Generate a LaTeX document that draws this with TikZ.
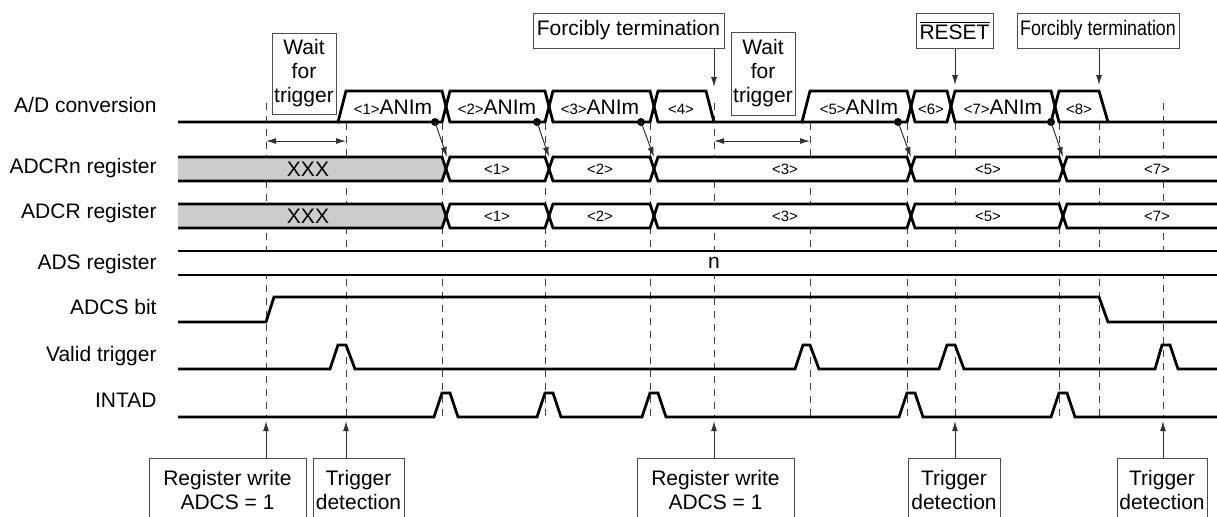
\documentclass[tikz,border=0pt]{standalone}
\usepackage{graphicx}
\usepackage{fontspec}
\setmainfont{Liberation Sans}
\usetikzlibrary{arrows.meta}

\tikzset{
  sigline/.style={line width=1.4pt, line join=miter},
  guide/.style={black!75, line width=0.5pt, dash pattern=on 3.5pt off 3pt},
  callout/.style={draw=black!70, line width=0.5pt, inner sep=0pt, align=center},
  ptr/.style={black!80, line width=0.5pt, -{Latex[length=5pt,width=3pt]}},
  span/.style={black!80, line width=0.5pt, {Latex[length=5pt,width=3pt]}-{Latex[length=5pt,width=3pt]}},
  rowlbl/.style={anchor=base east, inner sep=0pt},
  val/.style={anchor=base, inner sep=0pt},
}
\newcommand{\smtxt}[1]{{\fontsize{7.5}{9}\selectfont #1}}

\begin{document}
\begin{tikzpicture}[x=0.5pt,y=-0.5pt,font=\fontsize{10.5}{12}\selectfont]
\useasboundingbox (0,0) rectangle (1217,516);
\clip (0,0) rectangle (1217,516);

% row names
\node[rowlbl] (adlbl) at (157,112.5) {A/D conversion};
\node[rowlbl] (crnlbl) at (157,173.5) {ADCRn register};
\node[rowlbl] (crlbl) at (157,218.5) {ADCR register};
\node[rowlbl] (adslbl) at (157,269.5) {ADS register};
\node[rowlbl] (adcslbl) at (157,314) {ADCS bit};
\node[rowlbl] (vtlbl) at (157,361.5) {Valid trigger};
\node[rowlbl] (intlbl) at (157,407.5) {INTAD};

% timing guides
\foreach \gx in {266,714,1163} \draw[guide] (\gx,103) -- (\gx,417);
\foreach \gx in {346,442,545,650,810,907,955,1059,1099} \draw[guide] (\gx,123) -- (\gx,417);

% A/D conversion
\draw[sigline] (178,122) -- (338,122) -- (346,91) -- (442,91) -- (450,122) -- (545,122) -- (553,91) -- (650,91) -- (658,122) -- (714,122)
  -- (802,122) -- (810,91) -- (907,91) -- (915,122) -- (947,122) -- (955,91) -- (1051,91) -- (1059,122) -- (1108,122) -- (1217,122);
\draw[sigline] (338,122) -- (442,122) -- (450,91) -- (545,91) -- (553,122) -- (650,122) -- (658,91) -- (706,91) -- (714,122);
\draw[sigline] (802,122) -- (907,122) -- (915,91) -- (947,91) -- (955,122) -- (1051,122) -- (1059,91) -- (1099,91) -- (1108,122);
\node[val] (cv1) at (393,114) {\smtxt{<1>}ANIm};
\node[val] (cv2) at (497,114) {\smtxt{<2>}ANIm};
\node[val] (cv3) at (600,114) {\smtxt{<3>}ANIm};
\node[val] (cv4) at (681,114) {\smtxt{<4>}};
\node[val] (cv5) at (859,114) {\smtxt{<5>}ANIm};
\node[val] (cv6) at (931,114) {\smtxt{<6>}};
\node[val] (cv7) at (1003,114) {\smtxt{<7>}ANIm};
\node[val] (cv8) at (1079,114) {\smtxt{<8>}};

% ADCRn / ADCR buses
\foreach \bt/\bm/\bb in {157/169/181,204/216/228} {
  \fill[white] (178,\bt) rectangle (1217,\bb);
  \fill[gray!40] (178,\bt) -- (442,\bt) -- (446,\bm) -- (442,\bb) -- (178,\bb) -- cycle;
  \draw[sigline] (178,\bt) -- (442,\bt) -- (450,\bb) -- (545,\bb) -- (553,\bt) -- (650,\bt) -- (658,\bb) -- (907,\bb) -- (915,\bt) -- (1059,\bt) -- (1067,\bb) -- (1217,\bb);
  \draw[sigline] (178,\bb) -- (442,\bb) -- (450,\bt) -- (545,\bt) -- (553,\bb) -- (650,\bb) -- (658,\bt) -- (907,\bt) -- (915,\bb) -- (1059,\bb) -- (1067,\bt) -- (1217,\bt);
}
\node[val] (rnx) at (308,176.5) {XXX};
\node[val] (rn1) at (497,174) {\smtxt{<1>}};
\node[val] (rn2) at (600,174) {\smtxt{<2>}};
\node[val] (rn3) at (785,174) {\smtxt{<3>}};
\node[val] (rn5) at (988,174) {\smtxt{<5>}};
\node[val] (rn7) at (1157,174) {\smtxt{<7>}};
\node[val] (rx) at (308,223.5) {XXX};
\node[val] (r1) at (497,221) {\smtxt{<1>}};
\node[val] (r2) at (600,221) {\smtxt{<2>}};
\node[val] (r3) at (785,221) {\smtxt{<3>}};
\node[val] (r5) at (988,221) {\smtxt{<5>}};
\node[val] (r7) at (1157,221) {\smtxt{<7>}};

% ADS register
\fill[white] (178,251) rectangle (1217,275);
\draw[sigline] (178,251) -- (1217,251);
\draw[sigline] (178,275) -- (1217,275);
\node[val] (adsn) at (714,268.5) {n};

% ADCS bit, valid trigger, INTAD
\draw[sigline] (178,322) -- (266,322) -- (274,297) -- (1099,297) -- (1108,322) -- (1217,322);
\draw[sigline] (178,369) -- (330,369) -- (338,345) -- (346,345) -- (355,369) -- (795,369) -- (803,345) -- (810,345) -- (819,369)
  -- (939,369) -- (947,345) -- (955,345) -- (964,369) -- (1155,369) -- (1162,345) -- (1170,345) -- (1178,369) -- (1217,369);
\draw[sigline] (178,417) -- (434,417) -- (442,393) -- (450,393) -- (458,417) -- (537,417) -- (545,393) -- (553,393) -- (561,417)
  -- (642,417) -- (650,393) -- (658,393) -- (666,417) -- (899,417) -- (907,393) -- (915,393) -- (923,417)
  -- (1051,417) -- (1059,393) -- (1067,393) -- (1075,417) -- (1217,417);

% end of conversion -> register
\coordinate (e1) at (435,122); \coordinate (u1) at (447,157);
\coordinate (e2) at (537,122); \coordinate (u2) at (549,157);
\coordinate (e3) at (641,122); \coordinate (u3) at (654,157);
\coordinate (e4) at (898,122); \coordinate (u4) at (911,157);
\coordinate (e5) at (1051,122); \coordinate (u5) at (1063,157);
\foreach \i in {1,...,5} {
  \fill (e\i) circle (2pt);
  \draw[ptr] (e\i) -- (u\i);
}

% wait spans
\coordinate (ga) at (266,141); \coordinate (gb) at (346,141);
\coordinate (gc) at (714,141); \coordinate (gd) at (810,141);
\draw[span] (ga) -- (gb);
\draw[span] (gc) -- (gd);

% top notes
\node[callout, minimum width=32pt, minimum height=40.5pt] (wait1) at (304,73.5) {Wait\\for\\trigger};
\node[callout, minimum width=95.5pt, minimum height=17.5pt] (forced1) at (628.5,30.5) {Forcibly termination};
\node[callout, minimum width=32pt, minimum height=41.5pt] (wait2) at (763,73.5) {Wait\\for\\trigger};
\node[callout, minimum width=38.5pt, minimum height=17.5pt] (reset) at (954.5,30.5) {$\overline{\mbox{RESET}}$};
\node[callout, minimum width=81pt, minimum height=17.5pt] (forced2) at (1098,30.5) {\scalebox{0.85}[1]{Forcibly termination}};
\coordinate (f1) at (714,87);
\coordinate (rs) at (955,85);
\coordinate (f2) at (1099,85);
\draw[ptr] (forced1.south -| f1) -- (f1);
\draw[ptr] (reset.south -| rs) -- (rs);
\draw[ptr] (forced2.south -| f2) -- (f2);

% bottom notes
\node[callout, minimum width=78.5pt, minimum height=32pt] (write1) at (227.5,490) {Register write\\ADCS = 1};
\node[callout, minimum width=45.5pt, minimum height=32pt] (trig1) at (358.5,490) {Trigger\\detection};
\node[callout, minimum width=78.5pt, minimum height=32pt] (write2) at (715.5,490) {Register write\\ADCS = 1};
\node[callout, minimum width=46pt, minimum height=32pt] (trig2) at (954,490) {Trigger\\detection};
\node[callout, minimum width=45pt, minimum height=32pt] (trig3) at (1162,490) {Trigger\\detection};
\coordinate (w1) at (266,421);
\coordinate (t1) at (346,421);
\coordinate (w2) at (714,421);
\coordinate (t2) at (955,421);
\coordinate (t3) at (1163,421);
\draw[ptr] (write1.north -| w1) -- (w1);
\draw[ptr] (trig1.north -| t1) -- (t1);
\draw[ptr] (write2.north -| w2) -- (w2);
\draw[ptr] (trig2.north -| t2) -- (t2);
\draw[ptr] (trig3.north -| t3) -- (t3);
\end{tikzpicture}
\end{document}
